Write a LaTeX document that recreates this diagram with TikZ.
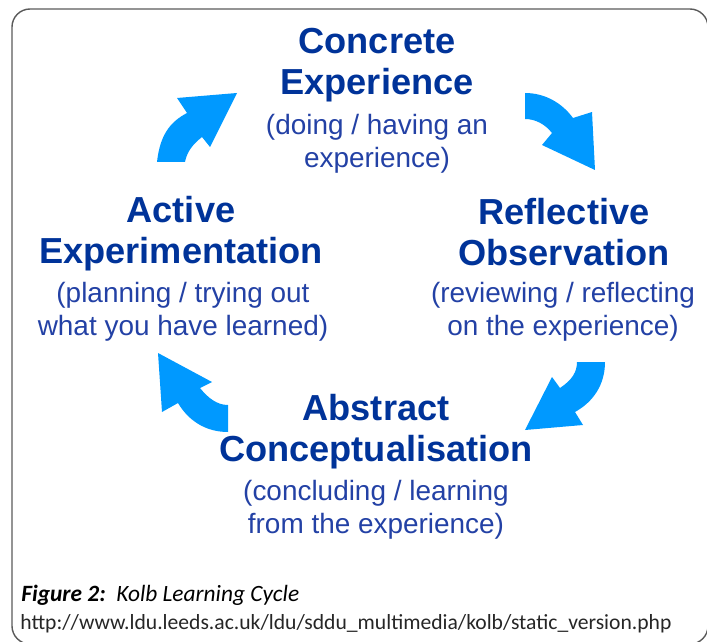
\documentclass[tikz,border=0pt]{standalone}
\usepackage{fontspec}
\setmainfont{Liberation Sans}
\newfontfamily\capfont{Carlito}
\definecolor{titleblue}{RGB}{0,51,153}
\definecolor{subblue}{RGB}{35,65,165}
\definecolor{arrowblue}{RGB}{0,153,255}
\definecolor{framegray}{RGB}{90,90,90}

\begin{document}
\begin{tikzpicture}[x=0.02cm,y=-0.02cm,
    stagetitle/.style={align=center,text=titleblue,font=\fontsize{20.6}{23.4}\selectfont\bfseries,inner sep=0pt},
    stagenote/.style={align=center,text=subblue,font=\fontsize{15.9}{18.6}\selectfont,inner sep=0pt},
    cyclearrow/.style={fill=arrowblue,draw=none},
    captext/.style={anchor=base west,inner sep=0pt}]
		\useasboundingbox (0,0) rectangle (707,642);
		\draw[framegray,line width=0.8pt,rounded corners=18*0.02cm] (12,9) rectangle (708,644);
		% the four stages
		\node[stagetitle] (ce) at (377,65) {Concrete\\Experience};
		\node[stagenote] (ce-note) at (377,144) {(doing / having an\\experience)};
		\node[stagetitle] (ro) at (564,232) {Reflective\\Observation};
		\node[stagenote] (ro-note) at (563,312) {(reviewing / reflecting\\on the experience)};
		\node[stagetitle] (ac) at (376,432) {Abstract\\Conceptualisation};
		\node[stagenote] (ac-note) at (376,510) {(concluding / learning\\from the experience)};
		\node[stagetitle] (ae) at (181,234) {Active\\Experimentation};
		\node[stagenote] (ae-note) at (183,312) {(planning / trying out\\what you have learned)};
		% curved arrows
		\fill[cyclearrow] (157,162) .. controls (160,135) and (170,122) .. (187,113) -- (177,98) -- (237,93) -- (210,147) -- (202,137) .. controls (192,145) and (187,152) .. (185,162) -- cycle;
		\fill[cyclearrow] (525,93) .. controls (545,93) and (562,103) .. (573,118) -- (592,112) -- (595,170) -- (542,145) -- (552,133) .. controls (545,124) and (535,119) .. (525,119) -- cycle;
		\fill[cyclearrow] (605,362) .. controls (605,385) and (593,402) .. (575,412) -- (583,425) -- (525,430) -- (552,377) -- (560,388) .. controls (572,380) and (577,372) .. (577,362) -- cycle;
		\fill[cyclearrow] (228,432) .. controls (205,432) and (188,420) .. (178,403) -- (162,412) -- (158,353) -- (212,382) -- (200,388) .. controls (208,398) and (217,405) .. (228,405) -- cycle;
		% caption
		\node[captext,font=\capfont\fontsize{13.3}{15}\selectfont] (fig) at (21,601) {\textbf{\textit{Figure 2:}}\ \ \textit{Kolb Learning Cycle}};
		\node[captext,font=\capfont\fontsize{12.3}{14}\selectfont,text=black!85] (url) at (20,629) {http://www.ldu.leeds.ac.uk/ldu/sddu\_multimedia/kolb/static\_version.php};
\end{tikzpicture}
\end{document}
